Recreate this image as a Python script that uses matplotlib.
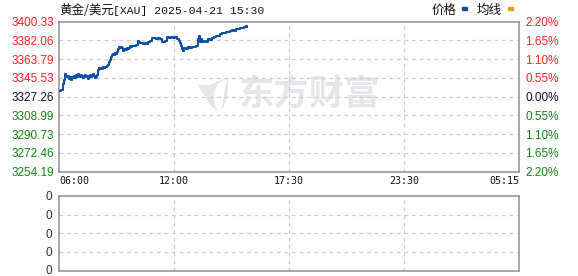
import numpy as np
import matplotlib
matplotlib.use("Agg")
import matplotlib.pyplot as plt
from matplotlib.patches import Polygon, Rectangle
import matplotlib.transforms as mtransforms

# ---------------- data ----------------
title_cn = "黄金/美元"
title_rest = "[XAU] 2025-04-21 15:30"
prev_close = 3327.26
price_ticks = [3254.19, 3272.46, 3290.73, 3308.99, 3327.26, 3345.53, 3363.79, 3382.06, 3400.33]
pct_labels = ["2.20%", "1.65%", "1.10%", "0.55%", "0.00%", "0.55%", "1.10%", "1.65%", "2.20%"]
session_labels = ["06:00", "12:00", "17:30", "23:30", "05:15"]
session_minutes = [0, 360, 690, 1050, 1395]   # minutes after 06:00

times = ["06:00", "06:03", "06:06", "06:09", "06:13", "06:16", "06:19", "06:22", "06:25", "06:28",
         "06:31", "06:34", "06:38", "06:41", "06:44", "06:47", "06:50", "06:53", "06:56", "06:59",
         "07:03", "07:06", "07:09", "07:12", "07:15", "07:18", "07:21", "07:25", "07:28", "07:31",
         "07:34", "07:37", "07:40", "07:43", "07:46", "07:50", "07:53", "07:56", "07:59", "08:02",
         "08:05", "08:08", "08:11", "08:15", "08:18", "08:21", "08:24", "08:27", "08:30", "08:33",
         "08:37", "08:40", "08:43", "08:46", "08:49", "08:52", "08:55", "08:58", "09:02", "09:05",
         "09:08", "09:11", "09:14", "09:17", "09:20", "09:23", "09:27", "09:30", "09:33", "09:36",
         "09:39", "09:42", "09:45", "09:49", "09:55", "10:01", "10:07", "10:10", "10:14", "10:20",
         "10:23", "10:29", "10:35", "10:39", "10:45", "10:51", "10:57", "11:04", "11:10", "11:16",
         "11:22", "11:25", "11:32", "11:38", "11:44", "11:51", "11:57", "12:03", "12:09", "12:14",
         "12:17", "12:20", "12:23", "12:26", "12:29", "12:34", "12:40", "12:46", "12:52", "12:57",
         "13:03", "13:06", "13:09", "13:12", "13:15", "13:17", "13:20", "13:26", "13:32", "13:38",
         "13:43", "13:49", "13:55", "14:01", "14:06", "14:12", "14:18", "14:23", "14:29", "14:35",
         "14:41", "14:46", "14:52", "14:58", "15:04", "15:09", "15:15", "15:21", "15:26", "15:30"]
prices = [3333.0, 3332.5, 3333.5, 3334.0, 3340.0, 3344.0, 3349.0, 3347.5, 3346.0, 3347.5,
          3344.5, 3346.5, 3343.5, 3346.0, 3345.0, 3347.5, 3345.5, 3348.0, 3346.5, 3349.0,
          3347.0, 3346.0, 3348.5, 3346.5, 3345.0, 3347.0, 3348.5, 3346.0, 3347.0, 3344.5,
          3346.5, 3348.0, 3346.0, 3347.5, 3349.0, 3347.0, 3345.5, 3346.5, 3348.0, 3353.0,
          3355.0, 3354.0, 3355.5, 3354.5, 3356.0, 3355.0, 3356.5, 3356.0, 3357.0, 3358.5,
          3361.5, 3363.0, 3366.0, 3368.0, 3369.0, 3368.0, 3369.5, 3368.5, 3371.0, 3374.0,
          3375.5, 3374.5, 3376.0, 3375.0, 3371.5, 3374.0, 3373.5, 3373.0, 3374.5, 3373.5,
          3375.0, 3376.5, 3376.0, 3377.0, 3376.5, 3378.0, 3381.5, 3381.0, 3379.5, 3380.0,
          3378.5, 3379.5, 3379.0, 3381.0, 3381.5, 3384.0, 3384.5, 3383.5, 3384.5, 3383.5,
          3381.0, 3380.5, 3382.0, 3385.0, 3384.5, 3385.5, 3384.5, 3385.0, 3383.0, 3381.5,
          3380.0, 3377.0, 3373.5, 3372.0, 3374.5, 3374.0, 3375.5, 3375.0, 3376.0, 3375.5,
          3376.5, 3377.0, 3383.0, 3386.0, 3381.0, 3383.5, 3380.5, 3382.0, 3381.0, 3383.5,
          3382.5, 3384.0, 3385.5, 3386.5, 3386.0, 3388.5, 3389.5, 3389.0, 3390.5, 3390.0,
          3391.0, 3392.0, 3391.5, 3393.0, 3393.5, 3394.5, 3394.0, 3395.5, 3396.5, 3395.5]

# ---------------- helpers ----------------
def to_minutes(t):
    h, m = map(int, t.split(":"))
    mins = (h - 6) * 60 + m
    if mins < 0:
        mins += 24 * 60
    return mins

mins = np.array([to_minutes(t) for t in times])
xq = np.interp(mins, session_minutes, np.arange(len(session_minutes)))

RED = "#ff2020"
GREEN = "#118811"
BLACK = "#101030"
FRAME = "#8f8f8f"
GRID = "#cfcfcf"
LINE = "#0d4fa3"
NUMFONT = "Liberation Sans"
CJK = ["Noto Sans CJK SC", "DejaVu Sans"]

W, H = 578, 276
fig = plt.figure(figsize=(W / 100, H / 100), dpi=100)

def fx(px):
    return px / W

def fy(py):
    return 1 - py / H

L, R = 59, 519
ax = fig.add_axes([fx(L), fy(171.7), fx(R - L), fy(21.7) - fy(171.7)])
ax2 = fig.add_axes([fx(L), fy(270.5), fx(R - L), fy(196) - fy(270.5)])

for a in (ax, ax2):
    a.set_xlim(0, len(session_minutes) - 1)
    for s in a.spines.values():
        s.set_color(FRAME)
        s.set_linewidth(1.1)
    a.tick_params(length=0)
    for xv in range(1, len(session_minutes) - 1):
        a.axvline(xv, color=GRID, lw=0.9, ls=(0, (3, 3)), zorder=1)

# main price panel
ax.set_ylim(price_ticks[0], price_ticks[-1])
for v in price_ticks[1:-1]:
    ax.axhline(v, color=GRID, lw=0.9, ls=(0, (3, 3)), zorder=1)

# watermark
ax.text(0.545, 0.51, "东方财富", transform=ax.transAxes, ha="center", va="center",
        fontsize=25.5, fontweight="bold", color="#e6e6ea", family=CJK, zorder=0)
blade1 = [(0.366, 0.625), (0.345, 0.585), (0.336, 0.52), (0.338, 0.45), (0.345, 0.40),
          (0.330, 0.44), (0.318, 0.50), (0.306, 0.55), (0.302, 0.58), (0.325, 0.575),
          (0.345, 0.60)]
blade2 = [(0.367, 0.62), (0.360, 0.55), (0.357, 0.47), (0.352, 0.40), (0.362, 0.46),
          (0.368, 0.54)]
for b in (blade1, blade2):
    ax.add_patch(Polygon(b, closed=True, transform=ax.transAxes, color="#e6e6ea", zorder=0, lw=0))

ax.plot(xq, prices, color=LINE, lw=1.5, drawstyle="steps-post", zorder=3)

ax.set_yticks(price_ticks)
ax.set_yticklabels([f"{v:.2f}" for v in price_ticks])
ax.tick_params(axis="y", pad=3.5, labelsize=8.5)
for lab, v in zip(ax.get_yticklabels(), price_ticks):
    lab.set_family(NUMFONT)
    if v > prev_close + 0.01:
        lab.set_color(RED)
    elif v < prev_close - 0.01:
        lab.set_color(GREEN)
    else:
        lab.set_color(BLACK)

axr = ax.twinx()
axr.set_ylim(price_ticks[0], price_ticks[-1])
axr.set_yticks(price_ticks)
axr.set_yticklabels(pct_labels[::-1])
axr.tick_params(length=0, pad=4.5, labelsize=8.5)
for s in axr.spines.values():
    s.set_visible(False)
for lab, v in zip(axr.get_yticklabels(), price_ticks):
    lab.set_family(NUMFONT)
    if v > prev_close + 0.01:
        lab.set_color(RED)
    elif v < prev_close - 0.01:
        lab.set_color(GREEN)
    else:
        lab.set_color(BLACK)

ax.set_xticks(range(len(session_labels)))
ax.set_xticklabels(session_labels)
ax.tick_params(axis="x", pad=3, labelsize=7.2)
xl = ax.get_xticklabels()
for i, lab in enumerate(xl):
    lab.set_family("DejaVu Sans Mono")
    lab.set_color("#111111")
    if i == 0:
        lab.set_ha("left")
    elif i == len(xl) - 1:
        lab.set_ha("right")

# volume panel
ax2.set_ylim(0, 4)
for v in (1, 2, 3):
    ax2.axhline(v, color=GRID, lw=0.9, ls=(0, (3, 3)), zorder=1)
ax2.set_xticks([])
ax2.set_yticks([0, 1, 2, 3, 4])
ax2.set_yticklabels(["0"] * 5)
ax2.tick_params(axis="y", pad=5, labelsize=8.5, labelcolor="#15307a")
ylabs = ax2.get_yticklabels()
for lab in ylabs:
    lab.set_family(NUMFONT)
ylabs[0].set_transform(ylabs[0].get_transform() +
                       mtransforms.ScaledTranslation(0, 1.5 / 100, fig.dpi_scale_trans))

# title & legend
fig.text(fx(59), fy(10), title_cn, ha="left", va="center", fontsize=9, family=CJK, color="#111111")
fig.text(fx(113), fy(10.5), title_rest, ha="left", va="center", fontsize=8.2,
         family="Liberation Mono", color="#111111")
fig.text(fx(432), fy(10), "价格", ha="left", va="center", fontsize=9, family=CJK, color="#111111")
fig.text(fx(477), fy(10), "均线", ha="left", va="center", fontsize=9, family=CJK, color="#111111")
fig.patches.append(Rectangle((fx(462), fy(10)), fx(5), 2.5 / H,
                             transform=fig.transFigure, color=LINE))
fig.patches.append(Rectangle((fx(508), fy(10)), fx(5), 2.5 / H,
                             transform=fig.transFigure, color="#e0a11b"))

fig.savefig("out.png", dpi=100)
